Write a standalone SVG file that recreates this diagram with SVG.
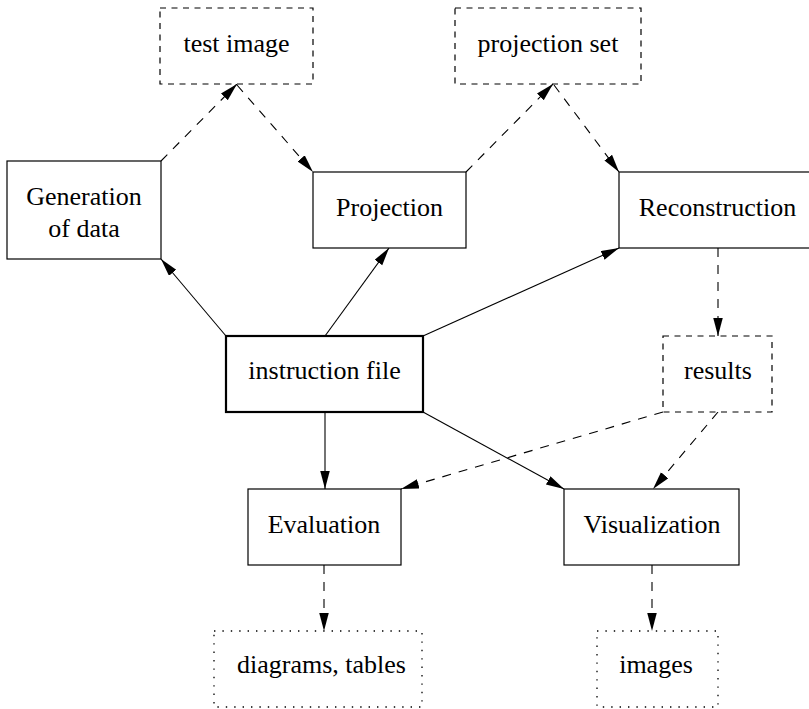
<svg xmlns="http://www.w3.org/2000/svg" width="809" height="709" viewBox="0 0 809 709">
<style>
.box{fill:#fff;stroke:#000;stroke-width:1.2}
.thick{fill:#fff;stroke:#000;stroke-width:2.2}
.dbox{fill:#fff;stroke:#000;stroke-width:1.2;stroke-dasharray:6 5.5}
.obox{fill:#fff;stroke:#000;stroke-width:1.3;stroke-dasharray:1.4 7}
.c{fill:none;stroke:#000;stroke-width:1.1;marker-end:url(#ah)}
.d{fill:none;stroke:#000;stroke-width:1.1;stroke-dasharray:9 8;marker-end:url(#ah)}
text{font-family:"Liberation Serif","Times New Roman",serif;font-size:26px;fill:#000;text-anchor:middle}
</style>
<defs>
<marker id="ah" markerUnits="userSpaceOnUse" markerWidth="20" markerHeight="12" refX="18" refY="4.75" orient="auto" viewBox="0 0 20 12">
<path d="M0,0 L18,4.75 L0,9.5 z" fill="#000"/>
</marker>
</defs>
<g id="connectors">
<line class="c" x1="226" y1="336" x2="161" y2="259"/>
<line class="c" x1="325" y1="336" x2="389" y2="248"/>
<line class="c" x1="423" y1="336" x2="619" y2="248"/>
<line class="c" x1="325" y1="412" x2="325" y2="489"/>
<line class="c" x1="423" y1="412" x2="564" y2="489"/>
<line class="d" x1="161" y1="161" x2="237" y2="84"/>
<line class="d" x1="237" y1="85" x2="313" y2="172"/>
<line class="d" x1="466" y1="172" x2="553" y2="84"/>
<line class="d" x1="554" y1="85" x2="619" y2="172"/>
<line class="d" x1="718" y1="248" x2="718" y2="336"/>
<line class="d" x1="663" y1="412" x2="401" y2="489"/>
<line class="d" x1="718" y1="412" x2="653" y2="489"/>
<line class="d" x1="324" y1="565" x2="324" y2="631"/>
<line class="d" x1="652" y1="565" x2="652" y2="631"/>
</g>
<g id="test-image"><rect class="dbox" x="160" y="8" width="153" height="76"/><text x="236.5" y="52">test image</text></g>
<g id="projection-set"><rect class="dbox" x="455" y="8" width="186" height="76"/><text x="548" y="52">projection set</text></g>
<g id="generation"><rect class="box" x="7" y="161" width="154" height="98"/><text x="84" y="205">Generation</text><text x="84" y="237">of data</text></g>
<g id="projection"><rect class="box" x="313" y="172" width="153" height="76"/><text x="389.5" y="216">Projection</text></g>
<g id="reconstruction"><rect class="box" x="619" y="172" width="197" height="76"/><text x="717.5" y="216">Reconstruction</text></g>
<g id="instruction-file"><rect class="thick" x="226" y="336" width="197" height="76"/><text x="324.5" y="379">instruction file</text></g>
<g id="results"><rect class="dbox" x="663" y="336" width="109" height="76"/><text x="718" y="379">results</text></g>
<g id="evaluation"><rect class="box" x="248" y="489" width="153" height="76"/><text x="324" y="533">Evaluation</text></g>
<g id="visualization"><rect class="box" x="564" y="489" width="175" height="76"/><text x="652" y="533">Visualization</text></g>
<g id="diagrams-tables"><rect class="obox" x="214" y="631" width="208" height="76"/><text x="321.5" y="673">diagrams, tables</text></g>
<g id="images"><rect class="obox" x="597" y="631" width="121" height="76"/><text x="656" y="673">images</text></g>
</svg>
